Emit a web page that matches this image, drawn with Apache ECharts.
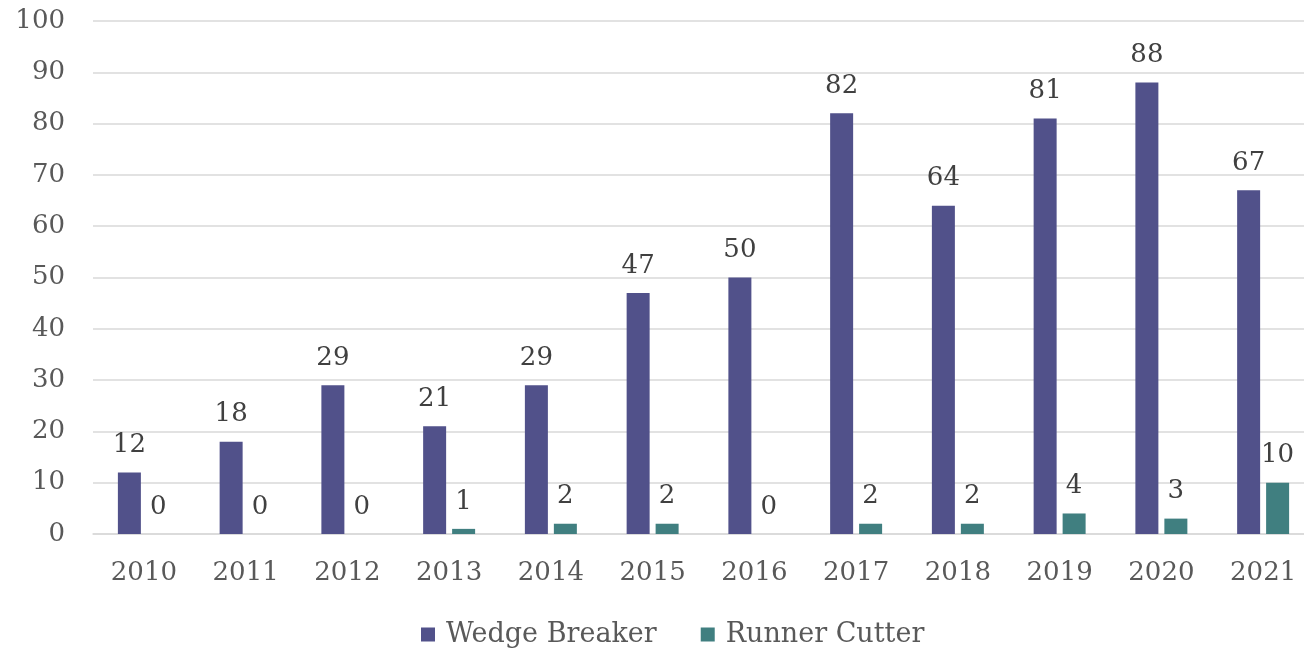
<!DOCTYPE html>
<html>
<head>
<meta charset="utf-8">
<script src="https://cdn.jsdelivr.net/npm/echarts@6/dist/echarts.min.js"></script>
<style>
  html, body { margin: 0; padding: 0; background: #fff; }
  #chart { width: 1304px; height: 651px; }
</style>
</head>
<body>
<div id="chart"></div>
<script>
const years = ['2010', '2011', '2012', '2013', '2014', '2015', '2016', '2017', '2018', '2019', '2020', '2021']
const wedgeBreaker = [12, 18, 29, 21, 29, 47, 50, 82, 64, 81, 88, 67]
const runnerCutter = [0, 0, 0, 1, 2, 2, 0, 2, 2, 4, 3, 10]

const fontFamily = '"DejaVu Serif", serif'

const labelStyle = {
  show: true,
  position: 'top',
  distance: 14,
  color: '#404040',
  fontFamily: fontFamily,
  fontSize: 26
}

const chart = echarts.init(document.getElementById('chart'))
chart.setOption({
  animation: false,
  grid: {
    left: 93,
    width: 1221,
    top: 21,
    bottom: 117,
    containLabel: false,
    outerBoundsMode: 'none'
  },
  legend: {
    top: 616,
    left: 416,
    icon: 'rect',
    itemWidth: 14,
    itemHeight: 14,
    itemGap: 44,
    textStyle: { color: '#595959', fontFamily: fontFamily, fontSize: 27, padding: [0, 0, 0, 6] },
    data: ['Wedge Breaker', 'Runner Cutter']
  },
  xAxis: {
    type: 'category',
    data: years,
    axisTick: { show: false },
    axisLine: { lineStyle: { color: '#d9d9d9', width: 1.5 } },
    axisLabel: { color: '#595959', fontFamily: fontFamily, fontSize: 26, margin: 26 }
  },
  yAxis: {
    type: 'value',
    min: 0,
    max: 100,
    interval: 10,
    axisLine: { show: false },
    axisTick: { show: false },
    axisLabel: { color: '#595959', fontFamily: fontFamily, fontSize: 26, margin: 28 },
    splitLine: { lineStyle: { color: '#d9d9d9', width: 1.5 } }
  },
  series: [
    {
      name: 'Wedge Breaker',
      type: 'bar',
      barWidth: 23,
      barGap: '26%',
      itemStyle: { color: '#51518a' },
      label: labelStyle,
      data: wedgeBreaker
    },
    {
      name: 'Runner Cutter',
      type: 'bar',
      barWidth: 23,
      barGap: '26%',
      itemStyle: { color: '#407f80' },
      label: labelStyle,
      data: runnerCutter
    }
  ]
})
</script>
</body>
</html>
